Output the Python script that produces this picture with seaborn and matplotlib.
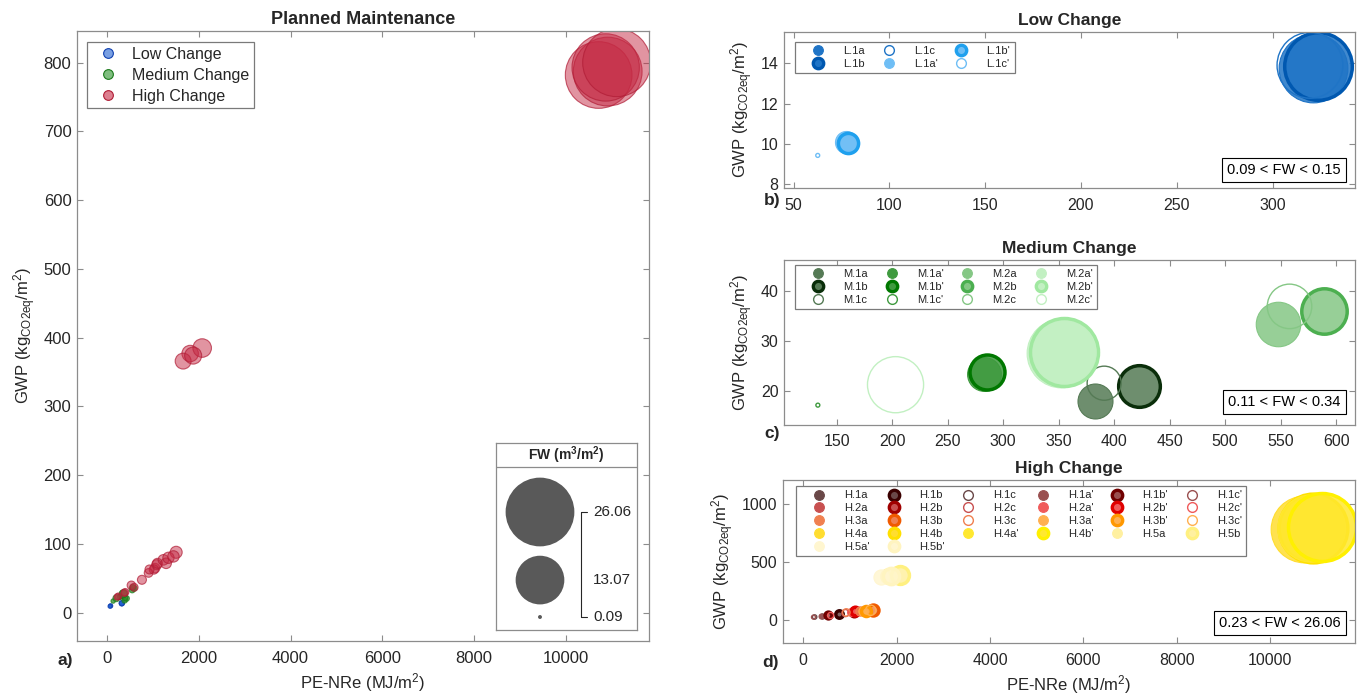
import numpy as np
import pandas as pd
import matplotlib
matplotlib.use('Agg')
import matplotlib.pyplot as plt
from matplotlib.colors import to_rgba
from matplotlib.lines import Line2D
import seaborn as sns

# ---- data (PE-NRe in MJ/m2, GWP in kgCO2eq/m2, FW in m3/m2) ----
LOW_NAMES = ["L.1a", "L.1b", "L.1c", "L.1a'", "L.1b'", "L.1c'"]
LOW_X = [321.0, 323.5, 319.5, 77.5, 78.2, 62.6]
LOW_Y = [13.75, 13.85, 13.90, 10.10, 10.05, 9.42]
LOW_FW = [0.150, 0.148, 0.145, 0.096, 0.095, 0.090]

MED_NAMES = ["M.1a", "M.1b", "M.1c", "M.1a'", "M.1b'", "M.1c'",
             "M.2a", "M.2b", "M.2c", "M.2a'", "M.2b'", "M.2c'"]
MED_X = [383, 422.6, 391, 283, 285, 133, 548, 589, 558, 352, 355, 203]
MED_Y = [18.0, 20.9, 21.5, 23.4, 23.7, 17.1, 33.4, 35.9, 36.9, 27.6, 27.8, 21.2]
MED_FW = [0.169, 0.194, 0.166, 0.165, 0.169, 0.110, 0.206, 0.210, 0.206, 0.340, 0.335, 0.263]

HIGH_NAMES = ["H.1a", "H.1b", "H.1c", "H.1a'", "H.1b'", "H.1c'",
              "H.2a", "H.2b", "H.2c", "H.2a'", "H.2b'", "H.2c'",
              "H.3a", "H.3b", "H.3c", "H.3a'", "H.3b'", "H.3c'",
              "H.4a", "H.4b", "H.4a'", "H.4b'", "H.5a", "H.5b", "H.5a'", "H.5b'"]
HIGH_X = [395, 760, 247, 378, 530, 222,
          1047, 1082, 905, 1020, 1100, 589,
          1228, 1506, 925, 1287, 1338, 1447,
          10713, 10910, 10866, 11106, 1811, 2073, 1658, 1876]
HIGH_Y = [30, 48, 24, 29, 40, 23,
          65, 70, 58, 63, 72, 37,
          77, 88, 63, 72, 80, 82,
          782, 787, 793, 800, 377, 385, 366, 374]
HIGH_FW = [0.30, 0.45, 0.25, 0.28, 0.40, 0.23,
           0.50, 0.55, 0.42, 0.48, 0.55, 0.35,
           0.62, 0.80, 0.45, 0.62, 0.70, 0.72,
           24.5, 26.06, 25.0, 25.5, 1.5, 1.9, 1.4, 1.6]

GROUP_LABELS = ["Low Change", "Medium Change", "High Change"]
FW_KEYS = [26.06, 13.07, 0.09]

# colours: (face, dark edge used for the "b" runs)
FAMILY = {
    "L.1": ("#1f74c6", "#0058b0"), "L.1'": ("#6fbef5", "#1fa0ee"),
    "M.1": ("#557a55", "#0a2e0a"), "M.1'": ("#3f9a3f", "#007800"),
    "M.2": ("#85c785", "#4caf50"), "M.2'": ("#c2f0c2", "#a0e8a0"),
    "H.1": ("#6a4848", "#3a0000"), "H.1'": ("#9a5050", "#700000"),
    "H.2": ("#c85050", "#a00000"), "H.2'": ("#f05a5a", "#e00000"),
    "H.3": ("#f08050", "#f05a00"), "H.3'": ("#ffb050", "#ff9800"),
    "H.4": ("#ffdd30", "#ffe000"), "H.4'": ("#ffe830", "#fff000"),
    "H.5": ("#fff0a0", "#fff080"), "H.5'": ("#fff6d0", "#fff4c0"),
}
GROUP_FACE = ["#2060d0", "#2a922a", "#c52a44"]
GROUP_EDGE = ["#1040b0", "#1a7a1a", "#b01c35"]

S_MIN, S_MAX = 8, 2450   # marker area range (pt^2)
FACE_ALPHA = 0.85
AXIS_GREY = "#8c8c8c"
TEXT_DARK = "#262626"

sns.set_style("ticks")
plt.rcParams['font.family'] = ['Liberation Sans', 'DejaVu Sans']
plt.rcParams['mathtext.default'] = 'regular'

W, H = 1370, 696
fig = plt.figure(figsize=(W / 100, H / 100), dpi=100)


def px_axes(left, top, right, bottom):
    return fig.add_axes([left / W, 1 - bottom / H, (right - left) / W, (bottom - top) / H])


def style_axes(ax, size=11.5):
    ax.tick_params(direction='in', top=True, right=True, length=4, width=0.8,
                   color=AXIS_GREY, labelcolor=TEXT_DARK, labelsize=size, pad=4)
    ax.tick_params(axis='x', pad=7)
    for sp in ax.spines.values():
        sp.set_visible(True)
        sp.set_color(AXIS_GREY)
        sp.set_linewidth(0.9)


def series_style(name):
    fam = name[:3] + ("'" if name.endswith("'") else "")
    face, dark = FAMILY[fam]
    return name[3], face, dark


def draw_series(ax, names, xs, ys, fws):
    df = pd.DataFrame({'name': names, 'x': xs, 'y': ys, 'fw': fws})
    norm = (min(fws), max(fws))
    handles = {}
    for i in range(len(df)):
        kind, face, dark = series_style(names[i])
        if kind == 'a':
            kw = dict(color=to_rgba(face, FACE_ALPHA), edgecolor=face, linewidth=0.8)
            h = Line2D([], [], ls='none', marker='o', ms=7, mfc=face, mec=face, mew=0.8)
        elif kind == 'b':
            kw = dict(color=to_rgba(face, FACE_ALPHA), edgecolor=dark, linewidth=2.5)
            h = Line2D([], [], ls='none', marker='o', ms=7.5, mfc=face, mec=dark, mew=2.4)
        else:
            kw = dict(color=face, facecolor='none', edgecolor=face, linewidth=1.0)
            h = Line2D([], [], ls='none', marker='o', ms=7, mfc='white', mec=face, mew=1.0)
        sns.scatterplot(data=df.iloc[[i]], x='x', y='y', size='fw', sizes=(S_MIN, S_MAX),
                        size_norm=norm, legend=False, ax=ax, **kw)
        handles[names[i]] = h
    return handles


def rows_to_cols(items, ncol):
    # matplotlib fills legend columns first, reorder a row-wise list
    nrow = -(-len(items) // ncol)
    out = []
    for c in range(ncol):
        for r in range(nrow):
            i = r * ncol + c
            if i < len(items):
                out.append(items[i])
    return out


def small_legend(ax, handles, names, ncol, anchor):
    leg = ax.legend([handles[n] for n in names], names, ncol=ncol, loc='upper left',
                    bbox_to_anchor=anchor, borderaxespad=0, fontsize=8,
                    handlelength=3.4, handletextpad=0.55, columnspacing=0.45,
                    borderpad=0.4, labelspacing=0.25, fancybox=False, framealpha=1)
    leg.get_frame().set_edgecolor('#7a7a7a')
    leg.get_frame().set_linewidth(0.9)


def fw_box(ax, fws, y=0.075):
    ax.text(0.975, y, f"{min(fws):.2f} < FW < {max(fws):.2f}", transform=ax.transAxes,
            ha='right', va='bottom', fontsize=10.5, color='black',
            bbox=dict(boxstyle='square,pad=0.35', fc='white', ec='black', lw=0.8))


GWP_LABEL = 'GWP (kg$_{CO2eq}$/m$^2$)'
PE_LABEL = 'PE-NRe (MJ/m$^2$)'

# ---------------- a) Planned Maintenance ----------------
ax_a = px_axes(77, 31, 649, 641)
all_df = pd.concat([
    pd.DataFrame({'group': g, 'x': xs, 'y': ys, 'fw': fw})
    for g, xs, ys, fw in zip(GROUP_LABELS, [LOW_X, MED_X, HIGH_X],
                             [LOW_Y, MED_Y, HIGH_Y], [LOW_FW, MED_FW, HIGH_FW])
], ignore_index=True)
fw_lo, fw_hi = all_df['fw'].min(), all_df['fw'].max()
alphas = [0.8, 0.75, 0.5]
for g, face, edge, al in zip(GROUP_LABELS, GROUP_FACE, GROUP_EDGE, alphas):
    sub = all_df[all_df['group'] == g]
    sns.scatterplot(data=sub, x='x', y='y', size='fw', sizes=(S_MIN, S_MAX),
                    size_norm=(fw_lo, fw_hi), color=to_rgba(face, al),
                    edgecolor=to_rgba(edge, 0.7), linewidth=0.8, legend=False, ax=ax_a)
ax_a.set_xlim(-655, 11810)
ax_a.set_ylim(-41, 846)
ax_a.set_xticks(range(0, 10001, 2000))
ax_a.set_yticks(range(0, 801, 100))
style_axes(ax_a, 12)
ax_a.set_xlabel(PE_LABEL, fontsize=12, color=TEXT_DARK)
ax_a.set_ylabel(GWP_LABEL, fontsize=12, color=TEXT_DARK)
ax_a.set_title('Planned Maintenance', fontsize=13, fontweight='bold', pad=5)
grp_handles = [Line2D([], [], ls='none', marker='o', ms=7, mfc=to_rgba(f, 0.6), mec=e, mew=0.8)
               for f, e in zip(GROUP_FACE, GROUP_EDGE)]
leg = ax_a.legend(grp_handles, GROUP_LABELS, loc='upper left', bbox_to_anchor=(0.0175, 0.982),
                  borderaxespad=0, fontsize=11.5, handlelength=2.0, handletextpad=0.5,
                  borderpad=0.3, labelspacing=0.37, fancybox=False, framealpha=1)
leg.get_frame().set_edgecolor('#7a7a7a')
leg.get_frame().set_linewidth(0.9)

# bubble size key
ax_fw = px_axes(496, 443, 637, 630)
key_df = pd.DataFrame({'x': [0.312] * 3, 'y': [0.631, 0.267, 0.0695], 'fw': FW_KEYS})
sns.scatterplot(data=key_df, x='x', y='y', size='fw', sizes=(S_MIN, S_MAX),
                size_norm=(fw_lo, fw_hi), color='#595959', edgecolor='none',
                linewidth=0, legend=False, ax=ax_fw)
ax_fw.set_xlim(0, 1)
ax_fw.set_ylim(0, 1)
ax_fw.set_xticks([])
ax_fw.set_yticks([])
ax_fw.set_xlabel('')
ax_fw.set_ylabel('')
for sp in ax_fw.spines.values():
    sp.set_color(AXIS_GREY)
    sp.set_linewidth(0.9)
ax_fw.axhline(0.872, color=AXIS_GREY, lw=0.9)
ax_fw.text(0.5, 0.936, 'FW (m$^3$/m$^2$)', ha='center', va='center', fontsize=10,
           fontweight='bold', color=TEXT_DARK)
ax_fw.plot([0.603, 0.603], [0.0695, 0.631], color=TEXT_DARK, lw=0.8)
for v, yy in zip(FW_KEYS, key_df['y']):
    if v != FW_KEYS[1]:
        ax_fw.plot([0.603, 0.645], [yy, yy], color=TEXT_DARK, lw=0.8)
    ax_fw.text(0.688, yy, f"{v:.2f}", ha='left', va='center', fontsize=11, color=TEXT_DARK)

# ---------------- b) Low Change ----------------
ax_b = px_axes(784, 31.7, 1355, 188)
hb = draw_series(ax_b, LOW_NAMES, LOW_X, LOW_Y, LOW_FW)
ax_b.set_xlim(45, 343)
ax_b.set_ylim(7.8, 15.57)
ax_b.set_xticks(range(50, 301, 50))
ax_b.set_yticks([8, 10, 12, 14])
style_axes(ax_b)
ax_b.set_xlabel('')
ax_b.set_ylabel(GWP_LABEL, fontsize=12, color=TEXT_DARK)
ax_b.set_title('Low Change', fontsize=12.5, fontweight='bold', pad=5)
small_legend(ax_b, hb, LOW_NAMES, 3, (0.019, 0.936))
fw_box(ax_b, LOW_FW, 0.07)

# ---------------- c) Medium Change ----------------
ax_c = px_axes(784, 260, 1355, 424.6)
hc = draw_series(ax_c, MED_NAMES, MED_X, MED_Y, MED_FW)
ax_c.set_xlim(102.5, 617)
ax_c.set_ylim(13.2, 46.2)
ax_c.set_xticks(range(150, 601, 50))
ax_c.set_yticks([20, 30, 40])
style_axes(ax_c)
ax_c.set_xlabel('')
ax_c.set_ylabel(GWP_LABEL, fontsize=12, color=TEXT_DARK)
ax_c.set_title('Medium Change', fontsize=12.5, fontweight='bold', pad=5)
small_legend(ax_c, hc, MED_NAMES, 4, (0.019, 0.970))
fw_box(ax_c, MED_FW, 0.095)

# ---------------- d) High Change ----------------
ax_d = px_axes(783, 480, 1355, 643)
hd = draw_series(ax_d, HIGH_NAMES, HIGH_X, HIGH_Y, HIGH_FW)
ax_d.set_xlim(-430, 11810)
ax_d.set_ylim(-200, 1205)
ax_d.set_xticks(range(0, 10001, 2000))
ax_d.set_yticks([0, 500, 1000])
style_axes(ax_d)
ax_d.set_xlabel(PE_LABEL, fontsize=12, color=TEXT_DARK)
ax_d.set_ylabel(GWP_LABEL, fontsize=12, color=TEXT_DARK)
ax_d.set_title('High Change', fontsize=12.5, fontweight='bold', pad=5)
small_legend(ax_d, hd, rows_to_cols(HIGH_NAMES, 6), 6, (0.023, 0.963))
fw_box(ax_d, HIGH_FW, 0.08)

# panel letters (offset below each axes, in pixels)
for ax, letter, dy in zip([ax_a, ax_b, ax_c, ax_d], ['a)', 'b)', 'c)', 'd)'], [19, 12, 9, 19]):
    bb = ax.get_position()
    fig.text(bb.x0 - 12 / W, bb.y0 - dy / H, letter, ha='center', va='center',
             fontsize=12.5, fontweight='bold', color=TEXT_DARK)

fig.savefig('out.png', dpi=100)
